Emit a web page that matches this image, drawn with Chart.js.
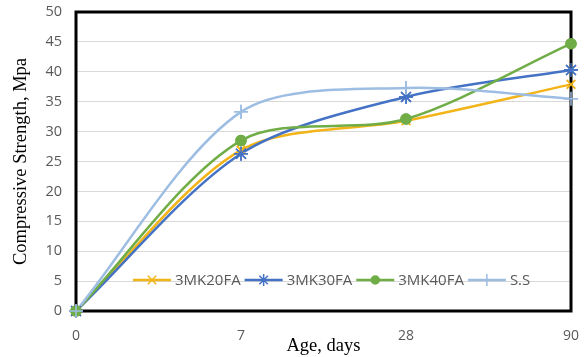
<!DOCTYPE html>
<html>
<head>
<meta charset="utf-8">
<script src="https://cdn.jsdelivr.net/npm/chart.js@4.4.1/dist/chart.umd.min.js"></script>
<style>
  html, body { margin: 0; padding: 0; background: #fff; }
  #wrap { width: 584px; height: 357px; }
</style>
</head>
<body>
<div id="wrap"><canvas id="chart" width="584" height="357"></canvas></div>
<script>
'use strict';

// Ages at test (days) and strengths (MPa)
var ages = ['0', '7', '28', '90'];
var mk20fa = [0, 26.9, 31.8, 37.9];
var mk30fa = [0, 26.3, 35.8, 40.3];
var mk40fa = [0, 28.5, 32.1, 44.7];
var ss = [0, 33.3, 37.3, 35.5];

var seriesNames = ['3MK20FA', '3MK30FA', '3MK40FA', 'S.S'];
var seriesColors = ['#F2B418', '#4472C4', '#70AD47', '#9DBDE3'];
var seriesMarkers = ['crossRot', 'star', 'circle', 'cross'];

function makeSet(i, values, radius) {
  return {
    label: seriesNames[i],
    data: values,
    borderColor: seriesColors[i],
    backgroundColor: seriesColors[i],
    pointStyle: seriesMarkers[i],
    pointRadius: radius,
    pointBorderWidth: 1.5,
    borderWidth: 2.5,
    tension: 0.3,
    clip: false,
    order: 4 - i
  };
}

// Black frame around the plot area, like the Excel chart,
// then the markers again so they sit on top of the frame
var plotFrame = {
  id: 'plotFrame',
  afterDraw: function(chart) {
    var a = chart.chartArea;
    var ctx = chart.ctx;
    ctx.save();
    ctx.strokeStyle = 'rgb(0,0,0)';
    ctx.lineWidth = 3;
    ctx.setLineDash([]);
    ctx.beginPath();
    ctx.moveTo(a.left, a.top);
    ctx.lineTo(a.right, a.top);
    ctx.lineTo(a.right, a.bottom);
    ctx.lineTo(a.left, a.bottom);
    ctx.closePath();
    ctx.stroke();
    ctx.restore();

    var area = { left: 0, top: 0, right: chart.width, bottom: chart.height };
    chart.getSortedVisibleDatasetMetas().slice().reverse().forEach(function(meta) {
      meta.data.forEach(function(pt) { pt.draw(ctx, area); });
    });
  }
};

// Legend drawn inside the plot, near the bottom
var innerLegend = {
  id: 'innerLegend',
  afterDatasetsDraw: function(chart) {
    var ctx = chart.ctx;
    var y = 280;
    var x = 133;
    ctx.save();
    ctx.font = '15px "Open Sans", sans-serif';
    ctx.textBaseline = 'middle';
    chart.data.datasets.forEach(function(ds) {
      ctx.strokeStyle = ds.borderColor;
      ctx.lineWidth = 2.5;
      ctx.beginPath();
      ctx.moveTo(x, y);
      ctx.lineTo(x + 38, y);
      ctx.stroke();
      ctx.lineWidth = 1.5;
      ctx.fillStyle = ds.borderColor;
      Chart.helpers.drawPoint(ctx, {
        pointStyle: ds.pointStyle,
        radius: ds.pointStyle === 'circle' ? 4 : 6,
        borderWidth: 1.5
      }, x + 19, y);
      ctx.fillStyle = '#595959';
      ctx.fillText(ds.label, x + 42, y + 1);
      x += 42 + ctx.measureText(ds.label).width + 4;
    });
    ctx.restore();
  }
};

new Chart(document.getElementById('chart').getContext('2d'), {
  type: 'line',
  data: {
    labels: ages,
    datasets: [
      makeSet(0, mk20fa, 6),
      makeSet(1, mk30fa, 7),
      makeSet(2, mk40fa, 5),
      makeSet(3, ss, 7)
    ]
  },
  options: {
    responsive: false,
    animation: false,
    layout: { padding: { top: 12, right: 13, left: 0, bottom: 0 } },
    plugins: {
      legend: { display: false },
      tooltip: { enabled: false }
    },
    scales: {
      x: {
        offset: false,
        grid: { display: false },
        border: { display: false },
        ticks: { color: '#595959', font: { family: 'Open Sans', size: 14 }, padding: 9 },
        title: {
          display: true,
          text: 'Age, days',
          color: '#000',
          font: { family: 'Liberation Serif', size: 18.5 },
          padding: { top: -6, bottom: 0 }
        },
        afterFit: function(scale) {
          scale.height = 46;
          scale.paddingLeft = 0;
          scale.paddingRight = 0;
        }
      },
      y: {
        min: 0,
        max: 50,
        ticks: { stepSize: 5, color: '#595959', font: { family: 'Open Sans', size: 14.5 }, padding: 14 },
        grid: { color: '#D9D9D9', drawTicks: false },
        border: { display: false },
        title: {
          display: true,
          text: 'Compressive Strength, Mpa',
          color: '#000',
          font: { family: 'Liberation Serif', size: 18.5 },
          padding: { top: 10, bottom: 4 }
        },
        afterFit: function(scale) {
          scale.width = 76;
          scale.paddingTop = 0;
          scale.paddingBottom = 0;
        }
      }
    }
  },
  plugins: [plotFrame, innerLegend]
});
</script>
</body>
</html>
